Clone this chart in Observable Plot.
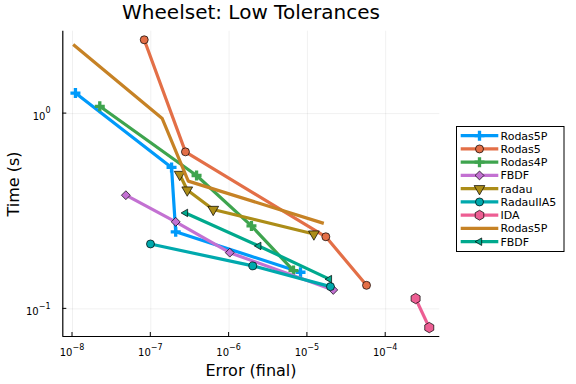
<!DOCTYPE html>
<html><head><meta charset="utf-8">
<script src="https://cdn.jsdelivr.net/npm/d3@7"></script>
<script src="https://cdn.jsdelivr.net/npm/@observablehq/plot@0.6"></script>
<style>body{margin:0;background:#fff}svg{display:block}</style>
</head><body><div id="chart"></div>
<script>
// Series names (legend order)
const seriesNames = ["Rodas5P","Rodas5","Rodas4P","FBDF","radau","RadauIIA5","IDA","Rodas5P","FBDF"];
const seriesColors = ["#009AFA","#E36F47","#3EA44E","#C371D2","#AC8D18","#00A9AD","#ED5E93","#C68225","#00A98D"];
const seriesSymbols = ["cross","circle","cross","diamond2","triangle","circle","hexagon",null,"triangle"];
const seriesRotate = [0,0,0,0,180,0,0,0,-90];
const seriesSizes = [4.2,4,4.2,4,4,4,4.5,0,2.8];
const seriesStroke = [false,true,false,true,true,true,true,false,true];

// Error (final) values
const err0 = [1.09e-8, 1.84e-7, 2.08e-7, 8.17e-6];
const err1 = [8.24e-8, 2.77e-7, 1.72e-5, 5.69e-5];
const err2 = [2.23e-8, 3.84e-7, 1.93e-6, 6.64e-6];
const err3 = [4.80e-8, 2.08e-7, 1.02e-6, 2.14e-5];
const err4 = [2.34e-7, 2.92e-7, 6.27e-7, 1.21e-5];
const err5 = [9.91e-8, 2.01e-6, 1.97e-5];
const err6 = [2.41e-4, 3.60e-4];
const err7 = [1.02e-8, 1.40e-7, 3.01e-7, 1.62e-5];
const err8 = [2.77e-7, 2.39e-6, 1.91e-5];
// Time (s) values
const time0 = [1.274, 0.530, 0.248, 0.154];
const time1 = [2.388, 0.637, 0.234, 0.132];
const time2 = [1.090, 0.482, 0.266, 0.157];
const time3 = [0.382, 0.279, 0.194, 0.125];
const time4 = [0.488, 0.406, 0.323, 0.2417];
const time5 = [0.215, 0.166, 0.130];
const time6 = [0.113, 0.0802];
const time7 = [2.26, 0.943, 0.451, 0.274];
const time8 = [0.310, 0.210, 0.142];

const errs = [err0,err1,err2,err3,err4,err5,err6,err7,err8];
const times = [time0,time1,time2,time3,time4,time5,time6,time7,time8];

const xTicks = [1e-8,1e-7,1e-6,1e-5,1e-4];
const xTickExps = ["−8","−7","−6","−5","−4"];
const yTicks = [0.1, 1];
const yTickExps = ["−1","0"];

const xDomain = [Math.pow(10,-8.124), Math.pow(10,-3.309)];
const yDomain = [Math.pow(10,-1.1415), Math.pow(10,0.422)];

const font = "DejaVu Sans, sans-serif";

const seriesMarks = [];
errs.forEach((ex, i) => {
  const data = ex.map((e, j) => ({x: e, y: times[i][j]}));
  seriesMarks.push(Plot.line(data, {x:"x", y:"y", stroke: seriesColors[i], strokeWidth: 3.2, strokeLinejoin:"round", strokeLinecap:"butt"}));
  if (seriesSymbols[i]) {
    seriesMarks.push(Plot.dot(data, {x:"x", y:"y", symbol: seriesSymbols[i], r: seriesSizes[i], rotate: seriesRotate[i],
      fill: seriesColors[i], stroke: seriesStroke[i] ? "#000" : "none", strokeWidth: 0.7}));
  }
});

const plot = Plot.plot({
  width: 576, height: 384,
  marginLeft: 62.3, marginRight: 136.7, marginTop: 30.7, marginBottom: 48,
  style: {fontFamily: font, background: "#fff"},
  x: {type: "log", domain: xDomain, axis: null},
  y: {type: "log", domain: yDomain, axis: null},
  marks: [
    Plot.gridX(xTicks, {stroke: "#000", strokeOpacity: 0.1, strokeWidth: 0.6}),
    Plot.gridY(yTicks, {stroke: "#000", strokeOpacity: 0.1, strokeWidth: 0.6}),
    ...seriesMarks,
    Plot.ruleX([xDomain[0]], {stroke: "#000", strokeWidth: 1.2}),
    Plot.ruleY([yDomain[0]], {stroke: "#000", strokeWidth: 1.2})
  ]
});

const svg = d3.select(plot);
const sx = plot.scale("x"), sy = plot.scale("y");
const x0 = sx.apply(xDomain[0]), y0 = sy.apply(yDomain[0]);
// inward ticks and tick labels
xTicks.forEach((t, i) => {
  const px = sx.apply(t);
  svg.append("line").attr("x1", px).attr("x2", px)
    .attr("y1", y0).attr("y2", y0 - 4).attr("stroke", "#000").attr("stroke-width", 1);
  const tx = svg.append("text").attr("x", px).attr("y", 356).attr("text-anchor", "middle")
    .attr("font-family", font).attr("font-size", 10).attr("fill", "#000");
  tx.append("tspan").text("10");
  tx.append("tspan").attr("dy", -6.5).attr("font-size", 8).text(xTickExps[i]);
});
yTicks.forEach((t, i) => {
  const py = sy.apply(t);
  svg.append("line").attr("x1", x0).attr("x2", x0 + 4)
    .attr("y1", py).attr("y2", py).attr("stroke", "#000").attr("stroke-width", 1);
  const tx = svg.append("text").attr("x", 50.5).attr("y", py + 6.8).attr("text-anchor", "end")
    .attr("font-family", font).attr("font-size", 10).attr("fill", "#000");
  tx.append("tspan").text("10");
  tx.append("tspan").attr("dy", -6.5).attr("font-size", 8).text(yTickExps[i]);
});
// title and axis labels
svg.append("text").attr("x", 251).attr("y", 18.5).attr("text-anchor", "middle")
  .attr("font-family", font).attr("font-size", 20).attr("fill", "#000").text("Wheelset: Low Tolerances");
svg.append("text").attr("x", 251).attr("y", 376).attr("text-anchor", "middle")
  .attr("font-family", font).attr("font-size", 16).attr("fill", "#000").text("Error (final)");
svg.append("text").attr("transform", "translate(18.5,184) rotate(-90)").attr("text-anchor", "middle")
  .attr("font-family", font).attr("font-size", 16).attr("fill", "#000").text("Time (s)");

// legend
const lg = svg.append("g");
lg.append("rect").attr("x", 456.5).attr("y", 126.5).attr("width", 107.5).attr("height", 125)
  .attr("fill", "#fff").attr("stroke", "#000").attr("stroke-width", 1);
const symMap = {cross: d3.symbolCross, circle: d3.symbolCircle, diamond2: d3.symbolDiamond2, triangle: d3.symbolTriangle};
seriesNames.forEach((name, i) => {
  const yy = 135.7 + i * 13.25;
  lg.append("line").attr("x1", 460.7).attr("x2", 498.3).attr("y1", yy).attr("y2", yy)
    .attr("stroke", seriesColors[i]).attr("stroke-width", 3.2);
  if (seriesSymbols[i]) {
    let pathD;
    const r = seriesSizes[i];
    if (seriesSymbols[i] === "hexagon") {
      const pts = d3.range(6).map(k => { const a = Math.PI/6 + k*Math.PI/3; return [r*1.1*Math.cos(a), r*1.1*Math.sin(a)]; });
      pathD = "M" + pts.map(p => p.join(",")).join("L") + "Z";
    } else {
      pathD = d3.symbol(symMap[seriesSymbols[i]], Math.PI * r * r)();
    }
    lg.append("path").attr("d", pathD)
      .attr("transform", `translate(479.5,${yy}) rotate(${seriesRotate[i]})`)
      .attr("fill", seriesColors[i]).attr("stroke", seriesStroke[i] ? "#000" : "none").attr("stroke-width", 0.7);
  }
  lg.append("text").attr("x", 500.5).attr("y", yy).attr("dy", "0.35em").attr("text-anchor", "start")
    .attr("font-family", font).attr("font-size", 11).attr("fill", "#000").text(name);
});

document.getElementById("chart").appendChild(plot);
</script></body></html>
